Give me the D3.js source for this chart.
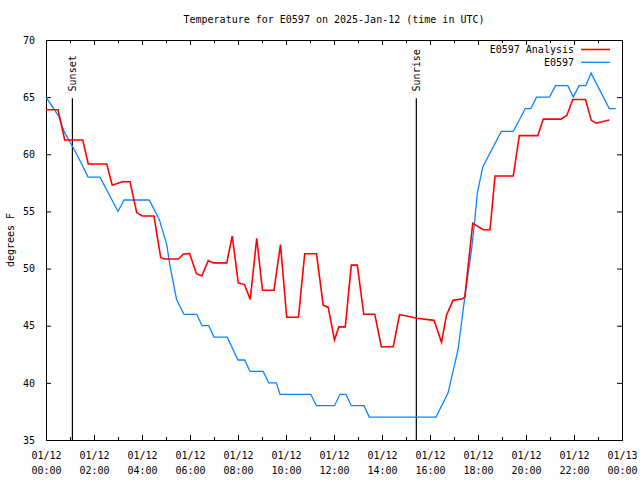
<!DOCTYPE html>
<html><head><meta charset="utf-8">
<script src="https://cdn.jsdelivr.net/npm/d3@7"></script>
<style>
body{margin:0;background:#fff;}
svg{display:block;}
text{font-family:"DejaVu Sans Mono","Liberation Mono",monospace;font-size:10px;fill:#000;}
</style></head><body>
<svg id="c" width="640" height="480"></svg>
<script>
const title = "Temperature for E0597 on 2025-Jan-12 (time in UTC)";
const yLabel = "degrees F";
const seriesNames = ["E0597 Analysis", "E0597"];
const yTicks = [35, 40, 45, 50, 55, 60, 65, 70];
// hours after 00:00 UTC
const analysisHours = [0,0.5,0.78,1.53,1.76,2.53,2.76,3.18,3.5,3.78,4.01,4.5,4.78,4.95,5.51,5.72,5.98,6.27,6.49,6.76,6.97,7.53,7.76,8.01,8.27,8.51,8.78,9.02,9.5,9.77,10.03,10.52,10.78,11.27,11.55,11.76,12.02,12.2,12.47,12.72,12.97,13.24,13.7,13.97,14.47,14.73,15.03,15.45,16.17,16.48,16.69,16.96,17.35,17.45,17.78,18.22,18.5,18.71,19.47,19.72,20.49,20.72,21.45,21.7,21.95,22.48,22.72,22.92,23.47];
const analysisTemps = [63.9,63.9,61.25,61.25,59.15,59.15,57.3,57.6,57.6,54.9,54.6,54.6,50.95,50.84,50.84,51.25,51.33,49.55,49.35,50.7,50.5,50.5,52.85,48.75,48.6,47.3,52.65,48.1,48.1,52.1,45.74,45.74,51.3,51.3,46.8,46.6,43.75,44.9,44.9,50.3,50.3,46.0,46.0,43.16,43.16,45.97,45.85,45.65,45.47,43.55,45.94,47.22,47.35,47.5,53.96,53.4,53.4,58.1,58.1,61.63,61.63,63.08,63.08,63.4,64.8,64.8,62.97,62.72,63.0];
const obsHours = [0,0.54,0.75,1.1,1.5,1.75,2.25,3.0,3.25,4.3,4.72,5.03,5.17,5.44,5.75,6.28,6.5,6.78,7.0,7.55,8.0,8.28,8.5,9.05,9.28,9.6,9.75,11.03,11.27,12.02,12.25,12.5,12.72,13.25,13.47,16.25,16.75,17.17,17.45,17.74,17.88,17.97,18.2,18.97,19.47,19.97,20.2,20.44,20.98,21.23,21.74,21.97,22.21,22.49,22.71,23.47,23.74];
const obsTemps = [65,63.3,62,60.7,59.1,58,58,55,56,56,54.3,52.1,50.2,47.3,46,46,45,45,44,44,42,42,41,41,40,40,39,39,38,38,39,39,38,38,37,37,39.1,42.9,47.5,51.8,54.5,56.6,58.9,62,62,64,64,65,65,66,66,65,66,66,67.1,64,64];
const sunEvents = [{label:"Sunset", hour:1.1}, {label:"Sunrise", hour:15.43}];
const seriesColors = ["#ff0000", "#0a84ff"];

const t0 = Date.UTC(2025,0,12,0,0);
const toDate = h => new Date(t0 + h*3600000);
const margin = {left:46, right:18, top:40, bottom:40};
const W = 640, H = 480;
const svg = d3.select("#c");
const x = d3.scaleUtc().domain([toDate(0), toDate(24)]).range([margin.left, W - margin.right]);
const y = d3.scaleLinear().domain([35, 70]).range([H - margin.bottom, margin.top]);

const fmtD = d3.utcFormat("%m/%d"), fmtT = d3.utcFormat("%H:%M");
const major = d3.utcHour.every(2).range(toDate(0), toDate(24.01));
const minor = d3.utcHour.every(1).range(toDate(0), toDate(24.01));

// minor ticks
svg.append("g").attr("transform",`translate(0,${y(35)})`)
  .call(d3.axisBottom(x).tickValues(minor).tickSize(-3).tickFormat(""))
  .call(g=>g.select(".domain").remove());
svg.append("g").attr("transform",`translate(0,${y(70)})`)
  .call(d3.axisTop(x).tickValues(minor).tickSize(-3).tickFormat(""))
  .call(g=>g.select(".domain").remove());
// major x ticks
const xb = svg.append("g").attr("transform",`translate(0,${y(35)})`)
  .call(d3.axisBottom(x).tickValues(major).tickSize(-5).tickPadding(0).tickFormat(""))
  .call(g=>g.select(".domain").remove());
xb.selectAll(".tick").append("text").attr("text-anchor","middle").attr("fill","#000")
  .each(function(d){
    const t = d3.select(this);
    t.append("tspan").attr("x",0).attr("y",19).text(fmtD(d));
    t.append("tspan").attr("x",0).attr("y",34).text(fmtT(d));
  });
svg.append("g").attr("transform",`translate(0,${y(70)})`)
  .call(d3.axisTop(x).tickValues(major).tickSize(-5).tickFormat(""))
  .call(g=>g.select(".domain").remove());
// y ticks
svg.append("g").attr("transform",`translate(${x.range()[0]},0)`)
  .call(d3.axisLeft(y).tickValues(yTicks).tickSize(-5).tickPadding(11).tickFormat(d3.format("d")))
  .call(g=>g.select(".domain").remove())
  .call(g=>g.selectAll("text").attr("font-size",10).attr("font-family","DejaVu Sans Mono"));
svg.append("g").attr("transform",`translate(${x.range()[1]},0)`)
  .call(d3.axisRight(y).tickValues(yTicks).tickSize(-5).tickFormat(""))
  .call(g=>g.select(".domain").remove());
svg.selectAll(".tick line").attr("stroke","#000");

// border
svg.append("rect").attr("x",x.range()[0]).attr("y",y(70))
  .attr("width",x.range()[1]-x.range()[0]).attr("height",y(35)-y(70))
  .attr("fill","none").attr("stroke","#000").attr("stroke-width",1).attr("shape-rendering","crispEdges");

// sun events
const se = svg.selectAll(".sun").data(sunEvents).enter().append("g");
se.append("line").attr("x1",d=>x(toDate(d.hour))).attr("x2",d=>x(toDate(d.hour)))
  .attr("y1",y(64.9)).attr("y2",y(35)).attr("stroke","#000").attr("stroke-width",1.2);
se.append("text").attr("transform",d=>`translate(${x(toDate(d.hour))+4},${y(65.5)}) rotate(-90)`)
  .attr("text-anchor","start").text(d=>d.label);

// lines
const line = d3.line().x(d=>x(toDate(d[0]))).y(d=>y(d[1]));
const obs = obsHours.map((h,i)=>[h,obsTemps[i]]);
const ana = analysisHours.map((h,i)=>[h,analysisTemps[i]]);
svg.append("path").datum(obs).attr("d",line).attr("fill","none")
  .attr("stroke",seriesColors[1]).attr("stroke-width",1.3);
svg.append("path").datum(ana).attr("d",line).attr("fill","none")
  .attr("stroke",seriesColors[0]).attr("stroke-width",1.6);

// title & labels
svg.append("text").attr("x",(x.range()[0]+x.range()[1])/2).attr("y",23)
  .attr("text-anchor","middle").text(title);
svg.append("text").attr("transform",`translate(14,${(y(35)+y(70))/2}) rotate(-90)`)
  .attr("text-anchor","middle").text(yLabel);

// legend
const lg = svg.append("g");
seriesNames.forEach((n,i)=>{
  const yy = 49.5 + i*12.8;
  lg.append("text").attr("x",574).attr("y",yy+3.5).attr("text-anchor","end").text(n);
  lg.append("line").attr("x1",581).attr("x2",610).attr("y1",yy).attr("y2",yy)
    .attr("stroke",seriesColors[i]).attr("stroke-width",i===0?1.6:1.3);
});
</script>
</body></html>
